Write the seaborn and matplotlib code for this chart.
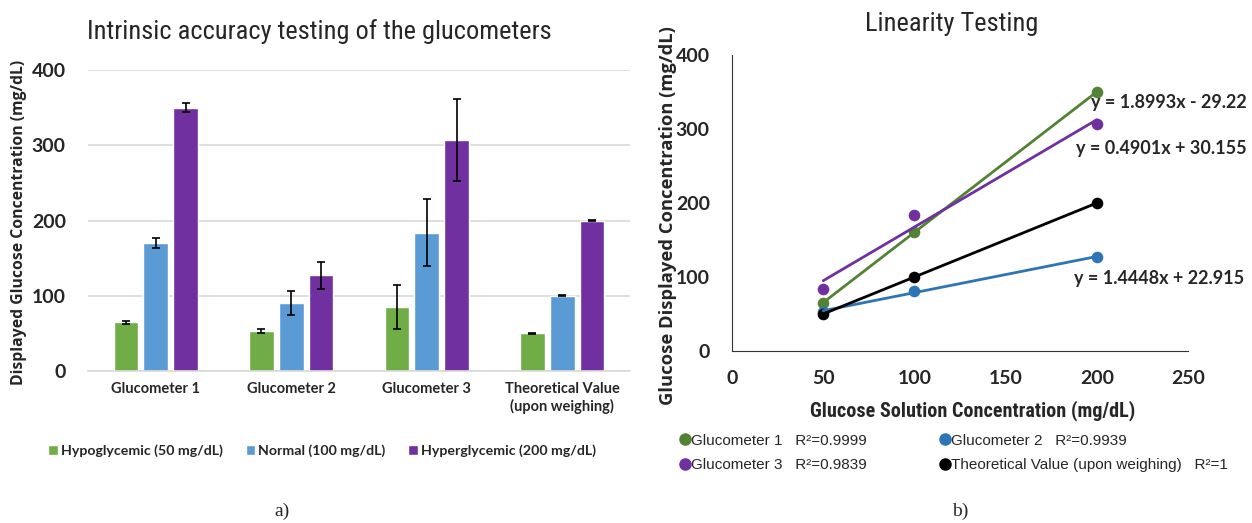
import numpy as np
import pandas as pd
import matplotlib
matplotlib.use("Agg")
import matplotlib.pyplot as plt
import seaborn as sns
from matplotlib.lines import Line2D

# ====================================================
# DATA
# ====================================================

meters = ["Glucometer 1", "Glucometer 2", "Glucometer 3", "Theoretical Value\n(upon weighing)"]
levels = ["Hypoglycemic (50 mg/dL)", "Normal (100 mg/dL)", "Hyperglycemic (200 mg/dL)"]

hypo_mean = [65, 53, 85, 50]
normal_mean = [170, 90, 184, 100]
hyper_mean = [350, 127, 307, 200]

hypo_err = [2, 3, 29, 0.5]
normal_err = [7, 16, 45, 0.5]
hyper_err = [6, 18, 55, 0.5]

solution_conc = [50, 100, 200]
gluco1 = [65, 161, 350]
gluco2 = [53, 81, 127]
gluco3 = [84, 184, 307]
theoretical = [50, 100, 200]

r2_labels = ["R²=0.9999", "R²=0.9939", "R²=0.9839", "R²=1"]
equations = ["y = 1.8993x - 29.22", "y = 0.4901x + 30.155", "y = 1.4448x + 22.915"]

# ====================================================
# STYLE
# ====================================================

sns.set_style("white")
calib = ["Lato", "DejaVu Sans"]
narrow = ["Roboto Condensed", "Roboto", "DejaVu Sans"]
plt.rcParams["font.family"] = ["Liberation Sans", "DejaVu Sans"]

bar_colors = ["#70AD47", "#5B9BD5", "#7030A0"]
line_colors = ["#548235", "#2E75B6", "#7030A0", "#000000"]

fig = plt.figure(figsize=(12.52, 5.23), dpi=100)

# ====================================================
# PANEL A - BAR CHART
# ====================================================

ax1 = fig.add_axes([88 / 1252, 1 - 371 / 523, 542 / 1252, 301 / 523])

df = pd.DataFrame({
    "meter": meters * 3,
    "level": [levels[0]] * 4 + [levels[1]] * 4 + [levels[2]] * 4,
    "value": hypo_mean + normal_mean + hyper_mean,
})
errs = [hypo_err, normal_err, hyper_err]

sns.barplot(
    data=df, x="meter", y="value", hue="level",
    order=meters, hue_order=levels, palette=bar_colors,
    width=0.66, gap=0.17, errorbar=None, saturation=1,
    ax=ax1
)

for cont, e in zip(list(ax1.containers), errs):
    for bar, err in zip(cont.patches, e):
        ax1.errorbar(
            bar.get_x() + bar.get_width() / 2, bar.get_height(),
            yerr=err, fmt="none", ecolor="black", elinewidth=1.2,
            capsize=3, capthick=1.2
        )

ax1.set_ylim(0, 400)
ax1.set_xlim(-0.5, 3.5)
ax1.set_yticks([0, 100, 200, 300, 400])
ax1.yaxis.grid(True, color="#D9D9D9", lw=1.2)
ax1.set_axisbelow(True)
for s in ["top", "right", "left"]:
    ax1.spines[s].set_visible(False)
ax1.spines["bottom"].set_color("#D9D9D9")
ax1.spines["bottom"].set_linewidth(1.2)
ax1.tick_params(length=0)
ax1.tick_params(axis="y", pad=16)
ax1.tick_params(axis="x", pad=8)
for lab in ax1.get_yticklabels():
    lab.set_fontfamily(calib)
    lab.set_fontweight("bold")
    lab.set_fontsize(14)
for lab in ax1.get_xticklabels():
    lab.set_fontfamily(calib)
    lab.set_fontweight("bold")
    lab.set_fontsize(10.5)
ax1.set_xlabel("")
ax1.set_ylabel("Displayed Glucose Concentration (mg/dL)", fontsize=11.3,
               fontweight="bold", family=["Open Sans", "DejaVu Sans"])
ax1.yaxis.set_label_coords((27 - 88) / 542, (371 - 222) / 301)
fig.text(319 / 1252, 1 - 32 / 523, "Intrinsic accuracy testing of the glucometers",
         fontsize=19, family=narrow, ha="center", va="center")

sns.move_legend(
    ax1, "center", bbox_to_anchor=(0.432, -0.266), ncol=3, frameon=False,
    title=None, handlelength=0.7, handleheight=0.7, handletextpad=0.2,
    columnspacing=1.6, prop={"family": calib, "weight": "bold", "size": 10.2}
)

# ====================================================
# PANEL B - LINEARITY
# ====================================================

ax2 = fig.add_axes([732 / 1252, 1 - 351 / 523, 456 / 1252, 296 / 523])

series = [gluco1, gluco2, gluco3, theoretical]
names = ["Glucometer 1", "Glucometer 2", "Glucometer 3", "Theoretical Value (upon weighing)"]
for ys, c in zip(series, line_colors):
    sns.regplot(
        x=solution_conc, y=ys, ci=None, color=c, ax=ax2,
        scatter_kws={"s": 70, "alpha": 1, "linewidths": 0},
        line_kws={"lw": 2}
    )

ax2.set_xlim(0, 250)
ax2.set_ylim(0, 400)
ax2.set_xticks([0, 50, 100, 150, 200, 250])
ax2.set_yticks([0, 100, 200, 300, 400])
ax2.spines["top"].set_visible(False)
ax2.spines["right"].set_visible(False)
ax2.spines["left"].set_color("#333333")
ax2.spines["bottom"].set_color("#333333")
ax2.tick_params(length=0)
ax2.tick_params(axis="y", pad=16)
ax2.tick_params(axis="x", pad=14)
for lab in ax2.get_xticklabels() + ax2.get_yticklabels():
    lab.set_fontfamily(calib)
    lab.set_fontweight("bold")
    lab.set_fontsize(14)
ax2.set_xlabel("Glucose Solution Concentration (mg/dL)", fontsize=14.5,
               fontweight="bold", family=narrow)
ax2.xaxis.set_label_coords((973 - 732) / 456, (351 - 400) / 296)
ax2.set_ylabel("Glucose Displayed Concentration (mg/dL)", fontsize=13.2,
               fontweight="bold", family=["Open Sans", "DejaVu Sans"])
ax2.yaxis.set_label_coords((677 - 732) / 456, (351 - 216) / 296)
fig.text(952 / 1252, 1 - 24 / 523, "Linearity Testing", fontsize=19, family=narrow,
         ha="center", va="center")

ax2.text(197, 336, equations[0], fontsize=13, fontweight="bold", family=calib, va="center")
ax2.text(188.5, 274, equations[1], fontsize=13, fontweight="bold", family=calib, va="center")
ax2.text(187.5, 98, equations[2], fontsize=13, fontweight="bold", family=calib, va="center")

order = [0, 2, 1, 3]
handles = [Line2D([], [], marker="o", ls="none", color=line_colors[i], markersize=8)
           for i in order]
labels = [names[i] + "   " + r2_labels[i] for i in order]
fig.legend(
    handles, labels, loc="upper left", bbox_to_anchor=(667 / 1252, 1 - 420 / 523),
    ncol=2, frameon=False, handlelength=0.6, handletextpad=0.1,
    columnspacing=4.8, labelspacing=0.7, prop={"size": 11}
)

# ====================================================
# CAPTIONS
# ====================================================

fig.text(282 / 1252, 1 - 511 / 523, "a)", family="Liberation Serif", fontsize=14,
         ha="center", va="center")
fig.text(960 / 1252, 1 - 511 / 523, "b)", family="Liberation Serif", fontsize=14,
         ha="center", va="center")

fig.savefig("out.png", dpi=100)
